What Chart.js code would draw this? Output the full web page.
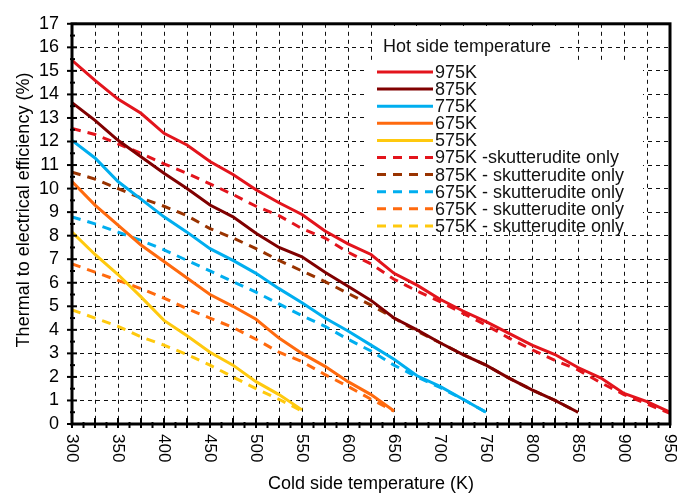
<!DOCTYPE html>
<html>
<head>
<meta charset="utf-8">
<script src="https://cdn.jsdelivr.net/npm/chart.js@4.4.1/dist/chart.umd.min.js"></script>
<style>
  html, body { margin: 0; padding: 0; background: #fff; }
  canvas { display: block; }
</style>
</head>
<body>
<canvas id="effChart" width="688" height="495"></canvas>
<script>
// cold side temperatures (K), every series starts at 300
var coldTemps = [300, 325, 350, 375, 400, 425, 450, 475, 500, 525, 550, 575, 600, 625, 650, 675, 700, 725, 750, 775, 800, 825, 850, 875, 900, 925, 950];

// efficiency (%) per hot side temperature
var hot975 = [15.45, 14.6, 13.8, 13.2, 12.35, 11.85, 11.15, 10.6, 9.95, 9.4, 8.9, 8.2, 7.65, 7.2, 6.4, 5.9, 5.3, 4.8, 4.35, 3.85, 3.35, 2.95, 2.4, 1.95, 1.3, 0.95, 0.5];
var hot875 = [13.65, 12.9, 12.05, 11.35, 10.65, 10.0, 9.3, 8.8, 8.1, 7.5, 7.1, 6.45, 5.85, 5.25, 4.5, 4.0, 3.45, 2.95, 2.5, 1.95, 1.45, 1.0, 0.5];
var hot775 = [12.05, 11.3, 10.3, 9.55, 8.8, 8.15, 7.45, 6.95, 6.4, 5.75, 5.15, 4.5, 3.95, 3.35, 2.75, 2.05, 1.6, 1.05, 0.5];
var hot675 = [10.3, 9.3, 8.45, 7.6, 6.9, 6.2, 5.5, 5.0, 4.45, 3.65, 3.0, 2.45, 1.8, 1.25, 0.55];
var hot575 = [8.15, 7.2, 6.35, 5.4, 4.4, 3.75, 3.05, 2.5, 1.8, 1.25, 0.6];

// skutterudite only
var sku975 = [12.55, 12.3, 11.9, 11.5, 11.05, 10.65, 10.2, 9.75, 9.25, 8.85, 8.3, 7.9, 7.3, 6.8, 6.15, 5.65, 5.2, 4.7, 4.2, 3.65, 3.15, 2.7, 2.3, 1.75, 1.25, 0.85, 0.45];
var sku875 = [10.7, 10.4, 10.0, 9.6, 9.25, 8.85, 8.3, 7.9, 7.45, 6.95, 6.5, 6.05, 5.55, 5.05, 4.5, 3.95, 3.45, 2.95, 2.5, 1.95, 1.45, 1.0, 0.5];
var sku775 = [8.8, 8.5, 8.15, 7.8, 7.4, 6.95, 6.5, 6.05, 5.6, 5.1, 4.6, 4.15, 3.6, 3.1, 2.5, 2.0, 1.55, 1.05, 0.5];
var sku675 = [6.8, 6.45, 6.1, 5.75, 5.35, 4.9, 4.5, 4.1, 3.6, 3.05, 2.65, 2.1, 1.6, 1.05, 0.55];
var sku575 = [4.85, 4.5, 4.15, 3.7, 3.35, 2.95, 2.5, 2.0, 1.5, 1.05, 0.55];

var seriesLabels = ["975K", "875K", "775K", "675K", "575K",
    "975K -skutterudite only", "875K - skutterudite only", "675K - skutterudite only",
    "675K - skutterudite only", "575K - skutterudite only"];
var xTickLabels = ["300", "350", "400", "450", "500", "550", "600", "650", "700", "750", "800", "850", "900", "950"];
var yTickLabels = ["0", "1", "2", "3", "4", "5", "6", "7", "8", "9", "10", "11", "12", "13", "14", "15", "16", "17"];

var FONT = "'Liberation Sans', Arial, sans-serif";
var DASH = [9, 7];

function pts(vals) {
    return vals.map(function(v, i) { return { x: coldTemps[i], y: v }; });
}

function series(label, vals, color, dashed) {
    return {
        label: label,
        data: pts(vals),
        borderColor: color,
        backgroundColor: color,
        borderWidth: 3,
        borderDash: dashed ? DASH : [],
        pointRadius: 0,
        tension: 0,
        fill: false
    };
}

// frame, ticks, rotated x labels, titles and legend box
var decor = {
    id: 'decor',
    afterDraw: function(chart) {
        var ctx = chart.ctx;
        var a = chart.chartArea;
        var xs = chart.scales.x, ys = chart.scales.y;
        ctx.save();

        // legend background
        ctx.fillStyle = '#fff';
        ctx.fillRect(372, 26, 188, 37);
        ctx.fillRect(366, 62, 277, 170);

        ctx.fillStyle = '#111';
        ctx.font = '18px ' + FONT;
        ctx.textAlign = 'left';
        ctx.textBaseline = 'middle';
        ctx.fillText('Hot side temperature', 383, 47);
        chart.data.datasets.forEach(function(ds, i) {
            var y = 72 + i * 17.1;
            ctx.strokeStyle = ds.borderColor;
            ctx.lineWidth = 3;
            ctx.setLineDash(ds.borderDash);
            ctx.beginPath();
            ctx.moveTo(377, y);
            ctx.lineTo(433, y);
            ctx.stroke();
            ctx.setLineDash([]);
            ctx.fillText(seriesLabels[i], 435, y + 1);
        });

        // frame
        ctx.strokeStyle = '#000';
        ctx.lineWidth = 3;
        ctx.strokeRect(a.left, a.top, a.right - a.left, a.bottom - a.top);

        // ticks
        ctx.lineWidth = 2;
        var t, px, v, py;
        for (t = 300; t <= 950; t += 12.5) {
            px = xs.getPixelForValue(t);
            var major = (t % 25 === 0);
            ctx.beginPath();
            ctx.moveTo(px, a.bottom - (major ? 6 : 2));
            ctx.lineTo(px, a.bottom + 4);
            ctx.stroke();
        }
        for (v = 0; v <= 17; v += 0.5) {
            py = ys.getPixelForValue(v);
            var big = (v % 1 === 0);
            ctx.beginPath();
            ctx.moveTo(a.left - (big ? 5 : 2), py);
            ctx.lineTo(a.left + (big ? 5 : 3), py);
            ctx.stroke();
        }

        // x tick labels, turned clockwise
        ctx.fillStyle = '#000';
        ctx.font = '17px ' + FONT;
        xTickLabels.forEach(function(lbl) {
            var p = xs.getPixelForValue(+lbl);
            ctx.save();
            ctx.translate(p, a.bottom + 10);
            ctx.rotate(Math.PI / 2);
            ctx.textAlign = 'left';
            ctx.textBaseline = 'middle';
            ctx.fillText(lbl, 0, 0);
            ctx.restore();
        });

        // axis titles
        ctx.font = '18px ' + FONT;
        ctx.textAlign = 'center';
        ctx.textBaseline = 'middle';
        ctx.fillText('Cold side temperature (K)', (a.left + a.right) / 2, 484);
        ctx.save();
        ctx.translate(24, 210);
        ctx.rotate(-Math.PI / 2);
        ctx.fillText('Thermal to electrical efficiency (%)', 0, 0);
        ctx.restore();

        ctx.restore();
    }
};

var ctx = document.getElementById('effChart');
var effChart = new Chart(ctx.getContext('2d'), {
    type: 'line',
    data: {
        datasets: [
            series(seriesLabels[0], hot975, '#E3141C', false),
            series(seriesLabels[1], hot875, '#800000', false),
            series(seriesLabels[2], hot775, '#00AEEF', false),
            series(seriesLabels[3], hot675, '#FF6A0E', false),
            series(seriesLabels[4], hot575, '#FFC90E', false),
            series(seriesLabels[5], sku975, '#E3141C', true),
            series(seriesLabels[6], sku875, '#993300', true),
            series(seriesLabels[7], sku775, '#00AEEF', true),
            series(seriesLabels[8], sku675, '#FF6A0E', true),
            series(seriesLabels[9], sku575, '#FFC90E', true)
        ]
    },
    options: {
        responsive: false,
        animation: false,
        layout: {
            padding: { left: 0, right: 18, top: 14, bottom: 0 }
        },
        scales: {
            x: {
                type: 'linear',
                min: 300,
                max: 950,
                afterFit: function(s) { s.height = 71; },
                ticks: { stepSize: 25, display: false, autoSkip: false },
                grid: { color: '#111', lineWidth: 1, drawTicks: false },
                border: { display: false, dash: [4, 4] }
            },
            y: {
                min: 0,
                max: 17,
                afterFit: function(s) { s.width = 72; },
                ticks: {
                    stepSize: 1,
                    autoSkip: false,
                    padding: 13,
                    color: '#000',
                    font: { family: FONT, size: 18 },
                    callback: function(value) { return yTickLabels[value]; }
                },
                grid: { color: '#111', lineWidth: 1, drawTicks: false },
                border: { display: false, dash: [4, 4] }
            }
        },
        plugins: {
            legend: { display: false },
            tooltip: { enabled: false }
        }
    },
    plugins: [decor]
});
</script>
</body>
</html>
